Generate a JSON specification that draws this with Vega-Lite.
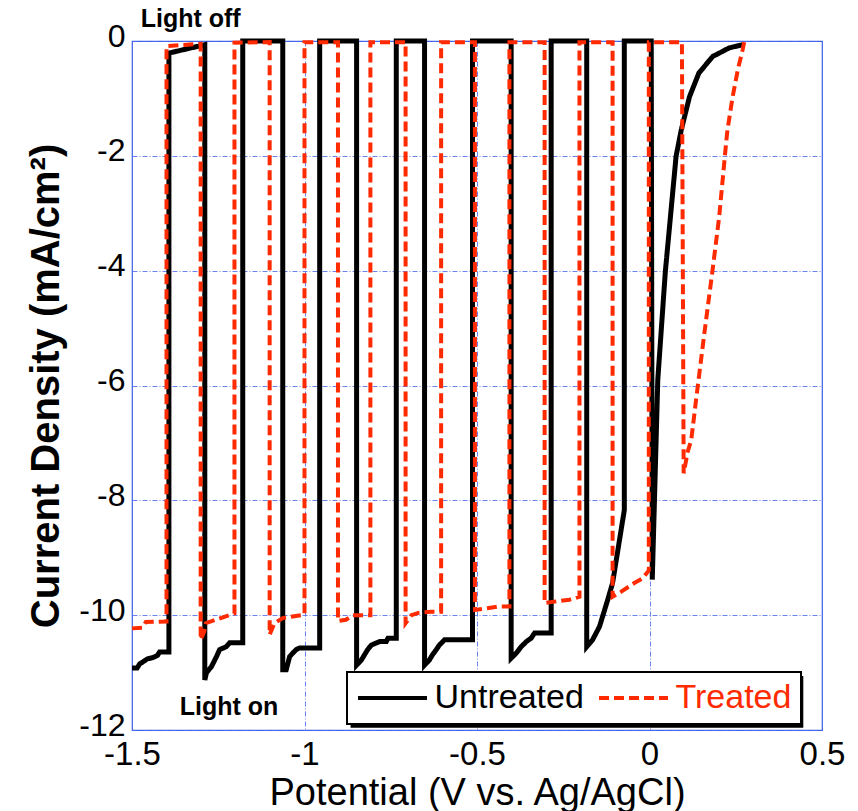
{
  "$schema": "https://vega.github.io/schema/vega-lite/v6.json",
  "autosize": "none",
  "width": 690,
  "height": 689,
  "padding": {"left": 132, "top": 41, "right": 36, "bottom": 81},
  "background": "white",
  "config": {
    "font": "Liberation Sans",
    "view": {"stroke": "#3a5fe6", "strokeWidth": 1.2},
    "axis": {
      "grid": true,
      "gridColor": "#4f6ff0",
      "gridDash": [5, 2, 1, 2],
      "gridWidth": 1,
      "gridOpacity": 0.85,
      "domain": false,
      "ticks": false,
      "labelFlush": false,
      "labelFont": "Liberation Sans",
      "labelFontSize": 32,
      "labelColor": "black",
      "titleFont": "Liberation Sans",
      "titleColor": "black"
    }
  },
  "datasets": {
    "curves": [
      {"s":"Untreated","i":1,"x":-1.5,"y":-10.92},
      {"s":"Untreated","i":2,"x":-1.485,"y":-10.92},
      {"s":"Untreated","i":3,"x":-1.478,"y":-10.85},
      {"s":"Untreated","i":4,"x":-1.465,"y":-10.8},
      {"s":"Untreated","i":5,"x":-1.455,"y":-10.76},
      {"s":"Untreated","i":6,"x":-1.44,"y":-10.74},
      {"s":"Untreated","i":7,"x":-1.426,"y":-10.7},
      {"s":"Untreated","i":8,"x":-1.42,"y":-10.64},
      {"s":"Untreated","i":9,"x":-1.393,"y":-10.64},
      {"s":"Untreated","i":10,"x":-1.393,"y":-0.21},
      {"s":"Untreated","i":11,"x":-1.289,"y":-0.065},
      {"s":"Untreated","i":12,"x":-1.289,"y":-11.13},
      {"s":"Untreated","i":13,"x":-1.284,"y":-11.0},
      {"s":"Untreated","i":14,"x":-1.27,"y":-10.9},
      {"s":"Untreated","i":15,"x":-1.255,"y":-10.72},
      {"s":"Untreated","i":16,"x":-1.246,"y":-10.6},
      {"s":"Untreated","i":17,"x":-1.227,"y":-10.55},
      {"s":"Untreated","i":18,"x":-1.217,"y":-10.48},
      {"s":"Untreated","i":19,"x":-1.179,"y":-10.48},
      {"s":"Untreated","i":20,"x":-1.179,"y":0.0},
      {"s":"Untreated","i":21,"x":-1.063,"y":0.0},
      {"s":"Untreated","i":22,"x":-1.063,"y":-10.95},
      {"s":"Untreated","i":23,"x":-1.053,"y":-10.95},
      {"s":"Untreated","i":24,"x":-1.043,"y":-10.72},
      {"s":"Untreated","i":25,"x":-1.034,"y":-10.66},
      {"s":"Untreated","i":26,"x":-1.024,"y":-10.6},
      {"s":"Untreated","i":27,"x":-1.014,"y":-10.57},
      {"s":"Untreated","i":28,"x":-0.956,"y":-10.57},
      {"s":"Untreated","i":29,"x":-0.956,"y":0.0},
      {"s":"Untreated","i":30,"x":-0.849,"y":0.0},
      {"s":"Untreated","i":31,"x":-0.849,"y":-10.87},
      {"s":"Untreated","i":32,"x":-0.835,"y":-10.78},
      {"s":"Untreated","i":33,"x":-0.826,"y":-10.69},
      {"s":"Untreated","i":34,"x":-0.817,"y":-10.6},
      {"s":"Untreated","i":35,"x":-0.806,"y":-10.52},
      {"s":"Untreated","i":36,"x":-0.782,"y":-10.46},
      {"s":"Untreated","i":37,"x":-0.763,"y":-10.46},
      {"s":"Untreated","i":38,"x":-0.758,"y":-10.4},
      {"s":"Untreated","i":39,"x":-0.734,"y":-10.4},
      {"s":"Untreated","i":40,"x":-0.734,"y":0.0},
      {"s":"Untreated","i":41,"x":-0.652,"y":0.0},
      {"s":"Untreated","i":42,"x":-0.652,"y":-10.87},
      {"s":"Untreated","i":43,"x":-0.638,"y":-10.78},
      {"s":"Untreated","i":44,"x":-0.629,"y":-10.69},
      {"s":"Untreated","i":45,"x":-0.618,"y":-10.6},
      {"s":"Untreated","i":46,"x":-0.609,"y":-10.52},
      {"s":"Untreated","i":47,"x":-0.594,"y":-10.43},
      {"s":"Untreated","i":48,"x":-0.513,"y":-10.43},
      {"s":"Untreated","i":49,"x":-0.513,"y":0.0},
      {"s":"Untreated","i":50,"x":-0.401,"y":0.0},
      {"s":"Untreated","i":51,"x":-0.401,"y":-10.75},
      {"s":"Untreated","i":52,"x":-0.386,"y":-10.66},
      {"s":"Untreated","i":53,"x":-0.372,"y":-10.55},
      {"s":"Untreated","i":54,"x":-0.357,"y":-10.46},
      {"s":"Untreated","i":55,"x":-0.343,"y":-10.4},
      {"s":"Untreated","i":56,"x":-0.333,"y":-10.31},
      {"s":"Untreated","i":57,"x":-0.285,"y":-10.31},
      {"s":"Untreated","i":58,"x":-0.285,"y":0.0},
      {"s":"Untreated","i":59,"x":-0.182,"y":0.0},
      {"s":"Untreated","i":60,"x":-0.182,"y":-10.55},
      {"s":"Untreated","i":61,"x":-0.165,"y":-10.43},
      {"s":"Untreated","i":62,"x":-0.145,"y":-10.2},
      {"s":"Untreated","i":63,"x":-0.121,"y":-9.73},
      {"s":"Untreated","i":64,"x":-0.107,"y":-9.44},
      {"s":"Untreated","i":65,"x":-0.073,"y":-8.17},
      {"s":"Untreated","i":66,"x":-0.073,"y":0.0},
      {"s":"Untreated","i":67,"x":0.005,"y":0.0},
      {"s":"Untreated","i":68,"x":0.008,"y":-9.38},
      {"s":"Untreated","i":69,"x":0.024,"y":-5.9},
      {"s":"Untreated","i":70,"x":0.046,"y":-4.01},
      {"s":"Untreated","i":71,"x":0.077,"y":-2.01},
      {"s":"Untreated","i":72,"x":0.092,"y":-1.55},
      {"s":"Untreated","i":73,"x":0.116,"y":-0.97},
      {"s":"Untreated","i":74,"x":0.143,"y":-0.56},
      {"s":"Untreated","i":75,"x":0.183,"y":-0.27},
      {"s":"Untreated","i":76,"x":0.231,"y":-0.12},
      {"s":"Untreated","i":77,"x":0.27,"y":-0.065},
      {"s":"Treated","i":1,"x":-1.5,"y":-10.23},
      {"s":"Treated","i":2,"x":-1.47,"y":-10.22},
      {"s":"Treated","i":3,"x":-1.46,"y":-10.12},
      {"s":"Treated","i":4,"x":-1.4,"y":-10.11},
      {"s":"Treated","i":5,"x":-1.4,"y":-0.09},
      {"s":"Treated","i":6,"x":-1.301,"y":-0.05},
      {"s":"Treated","i":7,"x":-1.301,"y":-10.43},
      {"s":"Treated","i":8,"x":-1.291,"y":-10.29},
      {"s":"Treated","i":9,"x":-1.286,"y":-10.14},
      {"s":"Treated","i":10,"x":-1.257,"y":-10.08},
      {"s":"Treated","i":11,"x":-1.217,"y":-10.0},
      {"s":"Treated","i":12,"x":-1.203,"y":-9.97},
      {"s":"Treated","i":13,"x":-1.203,"y":-0.03},
      {"s":"Treated","i":14,"x":-1.101,"y":-0.02},
      {"s":"Treated","i":15,"x":-1.101,"y":-10.34},
      {"s":"Treated","i":16,"x":-1.087,"y":-10.14},
      {"s":"Treated","i":17,"x":-1.063,"y":-10.05},
      {"s":"Treated","i":18,"x":-1.0,"y":-9.99},
      {"s":"Treated","i":19,"x":-1.0,"y":-0.02},
      {"s":"Treated","i":20,"x":-0.903,"y":-0.02},
      {"s":"Treated","i":21,"x":-0.903,"y":-10.1},
      {"s":"Treated","i":22,"x":-0.88,"y":-10.08},
      {"s":"Treated","i":23,"x":-0.86,"y":-10.0},
      {"s":"Treated","i":24,"x":-0.809,"y":-10.0},
      {"s":"Treated","i":25,"x":-0.809,"y":-0.02},
      {"s":"Treated","i":26,"x":-0.707,"y":-0.02},
      {"s":"Treated","i":27,"x":-0.707,"y":-10.14},
      {"s":"Treated","i":28,"x":-0.69,"y":-10.0},
      {"s":"Treated","i":29,"x":-0.67,"y":-9.96},
      {"s":"Treated","i":30,"x":-0.633,"y":-9.94},
      {"s":"Treated","i":31,"x":-0.604,"y":-9.94},
      {"s":"Treated","i":32,"x":-0.604,"y":-0.02},
      {"s":"Treated","i":33,"x":-0.506,"y":-0.02},
      {"s":"Treated","i":34,"x":-0.506,"y":-9.91},
      {"s":"Treated","i":35,"x":-0.47,"y":-9.88},
      {"s":"Treated","i":36,"x":-0.44,"y":-9.85},
      {"s":"Treated","i":37,"x":-0.406,"y":-9.85},
      {"s":"Treated","i":38,"x":-0.406,"y":-0.02},
      {"s":"Treated","i":39,"x":-0.304,"y":-0.02},
      {"s":"Treated","i":40,"x":-0.304,"y":-9.79},
      {"s":"Treated","i":41,"x":-0.27,"y":-9.76},
      {"s":"Treated","i":42,"x":-0.232,"y":-9.73},
      {"s":"Treated","i":43,"x":-0.203,"y":-9.68},
      {"s":"Treated","i":44,"x":-0.203,"y":-0.02},
      {"s":"Treated","i":45,"x":-0.107,"y":-0.02},
      {"s":"Treated","i":46,"x":-0.107,"y":-9.68},
      {"s":"Treated","i":47,"x":-0.082,"y":-9.59},
      {"s":"Treated","i":48,"x":-0.044,"y":-9.44},
      {"s":"Treated","i":49,"x":-0.02,"y":-9.36},
      {"s":"Treated","i":50,"x":-0.002,"y":-9.22},
      {"s":"Treated","i":51,"x":-0.002,"y":-0.02},
      {"s":"Treated","i":52,"x":0.094,"y":-0.02},
      {"s":"Treated","i":53,"x":0.099,"y":-7.53},
      {"s":"Treated","i":54,"x":0.111,"y":-7.15},
      {"s":"Treated","i":55,"x":0.121,"y":-6.95},
      {"s":"Treated","i":56,"x":0.135,"y":-6.25},
      {"s":"Treated","i":57,"x":0.159,"y":-5.09},
      {"s":"Treated","i":58,"x":0.183,"y":-3.98},
      {"s":"Treated","i":59,"x":0.202,"y":-3.06},
      {"s":"Treated","i":60,"x":0.222,"y":-1.78},
      {"s":"Treated","i":61,"x":0.226,"y":-1.55},
      {"s":"Treated","i":62,"x":0.241,"y":-0.97},
      {"s":"Treated","i":63,"x":0.256,"y":-0.5},
      {"s":"Treated","i":64,"x":0.27,"y":-0.15},
      {"s":"Treated","i":65,"x":0.275,"y":0.0}
    ]
  },
  "layer": [
    {
      "data": {"values": [{}]},
      "mark": {"type": "rect", "color": "black", "clip": false},
      "encoding": {
        "x": {"datum": -0.8665, "type": "quantitative"},
        "x2": {"datum": 0.4458},
        "y": {"datum": -11.06, "type": "quantitative"},
        "y2": {"datum": -11.96}
      }
    },
    {
      "data": {"name": "curves"},
      "transform": [{"filter": "datum.s === 'Untreated'"}],
      "mark": {"type": "line", "strokeWidth": 5, "strokeJoin": "miter", "strokeCap": "butt"},
      "encoding": {
        "x": {"field": "x", "type": "quantitative"},
        "y": {"field": "y", "type": "quantitative"},
        "order": {"field": "i", "type": "quantitative"},
        "color": {"field": "s", "type": "nominal"},
        "strokeDash": {"field": "s", "type": "nominal"}
      }
    },
    {
      "data": {"name": "curves"},
      "transform": [{"filter": "datum.s === 'Treated'"}],
      "mark": {"type": "line", "strokeWidth": 4, "strokeJoin": "miter", "strokeCap": "butt"},
      "encoding": {
        "x": {"field": "x", "type": "quantitative"},
        "y": {"field": "y", "type": "quantitative"},
        "order": {"field": "i", "type": "quantitative"},
        "color": {"field": "s", "type": "nominal"},
        "strokeDash": {"field": "s", "type": "nominal"}
      }
    },
    {
      "data": {"values": [{}]},
      "mark": {"type": "text", "text": "Light off", "clip": false, "font": "Liberation Sans", "fontWeight": "bold", "fontSize": 25, "color": "black", "align": "center", "baseline": "middle"},
      "encoding": {
        "x": {"datum": -1.33, "type": "quantitative"},
        "y": {"datum": 0.39, "type": "quantitative"}
      }
    },
    {
      "data": {"values": [{}]},
      "mark": {"type": "text", "text": "Light on", "clip": false, "font": "Liberation Sans", "fontWeight": "bold", "fontSize": 25, "color": "black", "align": "center", "baseline": "middle"},
      "encoding": {
        "x": {"datum": -1.219, "type": "quantitative"},
        "y": {"datum": -11.6, "type": "quantitative"}
      }
    }
  ],
  "encoding": {
    "x": {
      "type": "quantitative",
      "scale": {"domain": [-1.5, 0.5], "nice": false, "zero": false},
      "axis": {
        "values": [-1.5, -1, -0.5, 0, 0.5],
        "labelExpr": "toString(datum.value)",
        "labelPadding": 8,
        "labelFontSize": 33,
        "title": "Potential (V vs. Ag/AgCl)",
        "titleFontSize": 38,
        "titleFontWeight": "normal",
        "titlePadding": 3
      }
    },
    "y": {
      "type": "quantitative",
      "scale": {"domain": [-12, 0], "nice": false, "zero": false},
      "axis": {
        "values": [0, -2, -4, -6, -8, -10, -12],
        "labelExpr": "toString(datum.value)",
        "labelPadding": 7,
        "labelOffset": -5,
        "labelFontSize": 32,
        "title": "Current Density (mA/cm²)",
        "titleFontSize": 40,
        "titleFontWeight": "bold",
        "titlePadding": 12
      }
    },
    "color": {
      "type": "nominal",
      "scale": {"domain": ["Untreated", "Treated"], "range": ["black", "#ff2a00"]},
      "legend": {
        "title": null,
        "orient": "none",
        "direction": "horizontal",
        "legendX": 215,
        "legendY": 631,
        "padding": 9,
        "fillColor": "white",
        "strokeColor": "black",
        "symbolType": "M-2.3,0H2.3",
        "symbolSize": 900,
        "symbolOffset": 19.5,
        "symbolStrokeWidth": 4,
        "labelFont": "Liberation Sans",
        "labelFontSize": 34,
        "labelOffset": 25,
        "columnPadding": 7,
        "labelLimit": 300,
        "encode": {
          "legend": {"update": {"strokeWidth": {"value": 2}}},
          "labels": {"update": {"fill": {"signal": "datum.label === 'Treated' ? '#ff2a00' : '#000000'"}}}
        }
      }
    },
    "strokeDash": {
      "type": "nominal",
      "scale": {"domain": ["Untreated", "Treated"], "range": [[1, 0], [10, 5]]},
      "legend": null
    }
  }
}
